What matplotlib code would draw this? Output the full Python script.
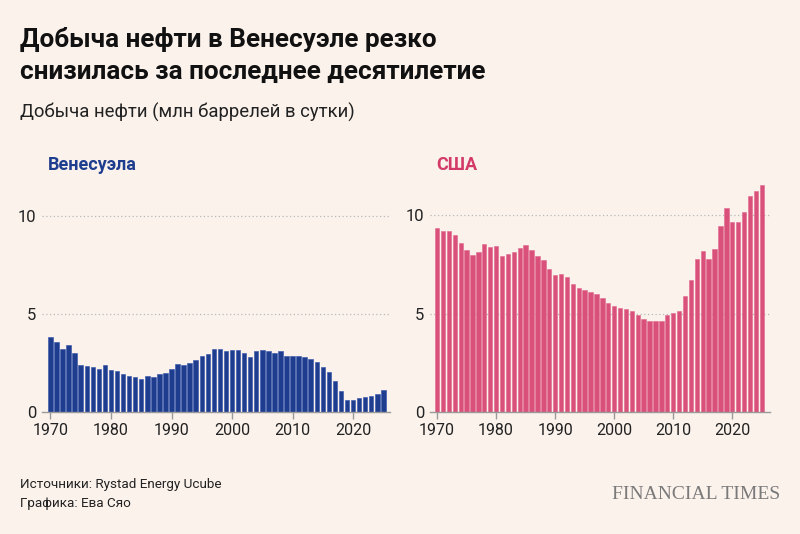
import matplotlib
matplotlib.use("Agg")
import matplotlib.pyplot as plt
import numpy as np

# ---- data (млн баррелей в сутки), 1970-2025 ----
years = list(range(1970, 2026))

venezuela = [
    3.83, 3.59, 3.23, 3.42, 3.01, 2.38, 2.33, 2.28, 2.19, 2.38,   # 1970-79
    2.16, 2.11, 1.94, 1.82, 1.79, 1.68, 1.82, 1.80, 1.96, 1.99,   # 1980-89
    2.19, 2.47, 2.41, 2.50, 2.64, 2.86, 2.96, 3.23, 3.23, 3.10,   # 1990-99
    3.18, 3.18, 2.99, 2.82, 3.10, 3.18, 3.11, 3.01, 3.11, 2.88,   # 2000-09
    2.87, 2.85, 2.80, 2.72, 2.55, 2.30, 2.04, 1.56, 1.07, 0.60,   # 2010-19
    0.60, 0.71, 0.77, 0.82, 0.94, 1.14,                           # 2020-25
]

usa = [
    9.36, 9.22, 9.19, 8.98, 8.60, 8.26, 8.00, 8.14, 8.53, 8.38,   # 1970-79
    8.43, 7.95, 8.02, 8.14, 8.34, 8.48, 8.22, 7.94, 7.72, 7.26,   # 1980-89
    6.99, 7.04, 6.84, 6.53, 6.31, 6.19, 6.09, 6.02, 5.80, 5.52,   # 1990-99
    5.38, 5.30, 5.24, 5.15, 4.95, 4.75, 4.65, 4.62, 4.65, 4.92,   # 2000-09
    5.04, 5.14, 5.89, 6.70, 7.78, 8.19, 7.78, 8.31, 9.44, 10.39,  # 2010-19
    9.66, 9.66, 10.17, 11.00, 11.25, 11.55,                       # 2020-25
]

title_1 = "Добыча нефти в Венесуэле резко"
title_2 = "снизилась за последнее десятилетие"
subtitle = "Добыча нефти (млн баррелей в сутки)"
source_1 = "Источники: Rystad Energy Ucube"
source_2 = "Графика: Ева Сяо"

x_ticks = [1970, 1980, 1990, 2000, 2010, 2020]
y_ticks = [0, 5, 10]

BG = "#fbf2ec"
BLUE = "#1e3d8f"
PINK = "#d9507a"

plt.rcParams["font.family"] = ["Roboto", "DejaVu Sans"]

W, H = 800, 534
fig = plt.figure(figsize=(W / 100, H / 100), dpi=100, facecolor=BG)


def px_axes(x0, x1, y_top, y_bot):
    # axes rect from pixel edges of the reference
    return fig.add_axes([x0 / W, 1 - y_bot / H, (x1 - x0) / W, (y_bot - y_top) / H])


def style(ax, xlim):
    ax.set_facecolor(BG)
    ax.set_xlim(*xlim)
    ax.set_ylim(0, 12)
    for s in ("top", "right", "left"):
        ax.spines[s].set_visible(False)
    ax.spines["bottom"].set_color("#9a9a9a")
    ax.spines["bottom"].set_linewidth(1.0)
    ax.set_xticks(x_ticks)
    ax.set_yticks(y_ticks)
    ax.tick_params(axis="x", length=5, width=1, color="#9a9a9a",
                   labelsize=11.5, labelcolor="#222222", pad=3)
    ax.tick_params(axis="y", length=0, labelsize=12, labelcolor="#222222", pad=4)
    for yv in y_ticks[1:]:
        ax.axhline(yv, color="#b8b8b8", lw=0.9, ls=(0, (1, 2)), zorder=0)


ax1 = px_axes(42, 390, 177, 412)
ax1.bar(years, venezuela, width=0.74, color=BLUE, edgecolor="#2f52a8",
        linewidth=0.4, zorder=2)
style(ax1, (1968.6, 2026.1))

ax2 = px_axes(430, 770, 176, 412)
ax2.bar(years, usa, width=0.74, color=PINK, edgecolor="#e06a90",
        linewidth=0.4, zorder=2)
style(ax2, (1968.8, 2026.4))

# titles
fig.text(20 / W, 1 - 47 / H, title_1, fontsize=18.8, fontweight="bold",
         color="#111111", va="baseline")
fig.text(20 / W, 1 - 79 / H, title_2, fontsize=18.8, fontweight="bold",
         color="#111111", va="baseline")
fig.text(20 / W, 1 - 118 / H, subtitle, fontsize=13.3, color="#222222",
         va="baseline")

fig.text(48 / W, 1 - 170 / H, "Венесуэла", fontsize=13, fontweight="bold",
         color=BLUE, va="baseline")
fig.text(436 / W, 1 - 170 / H, "США", fontsize=13, fontweight="bold",
         color="#d23a68", va="baseline")

# footer
fig.text(20 / W, 1 - 488 / H, source_1, fontsize=9.7, color="#222222",
         va="baseline")
fig.text(20 / W, 1 - 507 / H, source_2, fontsize=9.7, color="#222222",
         va="baseline")
fig.text(780 / W, 1 - 499 / H, "FINANCIAL TIMES", fontsize=14,
         family="Liberation Serif", color="#7a7a7a", ha="right", va="baseline")

fig.savefig("out.png", dpi=100, facecolor=BG)
